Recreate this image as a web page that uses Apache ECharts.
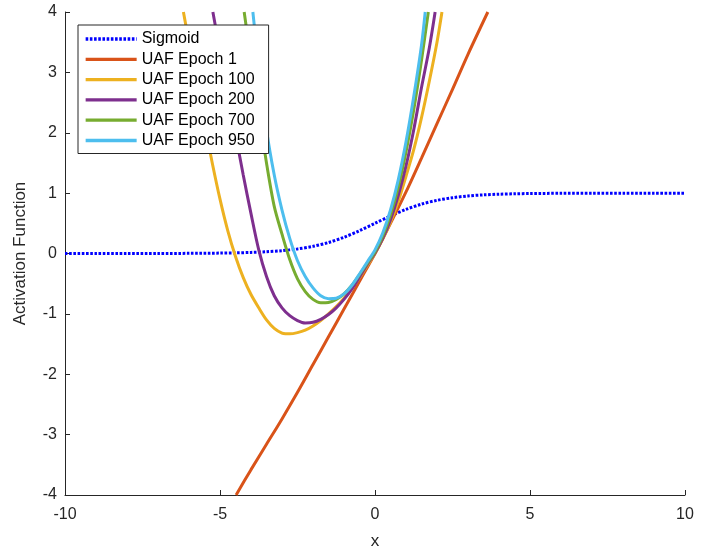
<!DOCTYPE html>
<html><head><meta charset="utf-8">
<script src="https://cdn.jsdelivr.net/npm/echarts@6/dist/echarts.min.js"></script>
<style>html,body{margin:0;padding:0;background:#fff}#c{width:718px;height:548px}</style>
</head><body><div id="c"></div>
<script>
const xTicks = [-10, -5, 0, 5, 10];
const yTicks = [-4, -3, -2, -1, 0, 1, 2, 3, 4];
const seriesNames = ['Sigmoid', 'UAF Epoch 1', 'UAF Epoch 100', 'UAF Epoch 200', 'UAF Epoch 700', 'UAF Epoch 950'];

const sigmoidX = [-10,-9,-8,-7,-6,-5,-4.5,-4,-3.5,-3,-2.5,-2,-1.5,-1,-0.5,0,0.5,1,1.5,2,2.5,3,3.5,4,4.5,5,6,7,8,9,10];
const sigmoidY = [0.0000,0.0001,0.0003,0.0009,0.0025,0.0067,0.011,0.018,0.029,0.047,0.076,0.119,0.182,0.269,0.378,0.500,0.622,0.731,0.818,0.881,0.924,0.953,0.971,0.982,0.989,0.993,0.9975,0.9991,0.9997,0.9999,1.0000];

const epoch1X = [-4.48,-4,-3.5,-3,-2.5,-2,-1.5,-1,-0.5,0,0.5,1,1.5,2,2.5,3,3.64];
const epoch1Y = [-4,-3.58,-3.16,-2.74,-2.3,-1.84,-1.38,-0.92,-0.46,0,0.5,1.02,1.58,2.15,2.72,3.3,4];

const epoch100X = [-6.18,-6.0,-5.75,-5.5,-5.25,-5.0,-4.75,-4.5,-4.25,-4.0,-3.75,-3.5,-3.25,-3.0,-2.89,-2.75,-2.5,-2.25,-2.0,-1.75,-1.5,-1.25,-1.0,-0.75,-0.5,-0.25,0,0.25,0.5,0.75,1.0,1.25,1.5,1.75,2.0,2.16];
const epoch100Y = [4.0,3.5,2.82,2.15,1.5,0.9,0.38,-0.05,-0.4,-0.68,-0.9,-1.1,-1.24,-1.32,-1.33,-1.33,-1.31,-1.27,-1.2,-1.11,-1.0,-0.88,-0.74,-0.58,-0.4,-0.2,0,0.24,0.52,0.86,1.28,1.72,2.25,2.85,3.5,4.0];

const epoch200X = [-5.23,-5.0,-4.75,-4.5,-4.25,-4.0,-3.75,-3.5,-3.25,-3.0,-2.75,-2.5,-2.25,-2.0,-1.75,-1.5,-1.25,-1.0,-0.75,-0.5,-0.25,0,0.25,0.5,0.75,1.0,1.25,1.5,1.75,1.94];
const epoch200Y = [4.0,3.35,2.66,1.98,1.3,0.66,0.06,-0.38,-0.7,-0.9,-1.03,-1.11,-1.15,-1.14,-1.09,-1.01,-0.9,-0.76,-0.59,-0.39,-0.18,0.01,0.25,0.56,0.96,1.45,2.05,2.75,3.4,4.0];

const epoch700X = [-4.22,-4.0,-3.75,-3.5,-3.25,-3.0,-2.75,-2.5,-2.25,-2.0,-1.75,-1.5,-1.25,-1.0,-0.75,-0.5,-0.25,0,0.25,0.5,0.75,1.0,1.25,1.5,1.72];
const epoch700Y = [4.0,3.2,2.35,1.5,0.78,0.32,-0.1,-0.42,-0.63,-0.76,-0.815,-0.81,-0.76,-0.67,-0.53,-0.35,-0.16,0.03,0.29,0.64,1.1,1.68,2.38,3.2,4.0];

const epoch950X = [-3.94,-3.75,-3.5,-3.25,-3.0,-2.75,-2.5,-2.25,-2.0,-1.75,-1.5,-1.25,-1.0,-0.75,-0.5,-0.25,0,0.25,0.5,0.75,1.0,1.25,1.5,1.62];
const epoch950Y = [4.0,3.1,2.05,1.3,0.72,0.25,-0.12,-0.38,-0.57,-0.7,-0.748,-0.74,-0.67,-0.53,-0.34,-0.14,0.06,0.34,0.72,1.22,1.85,2.6,3.45,4.0];

const zip = (xs, ys) => xs.map((x, i) => [x, ys[i]]);
const FONT = '"Liberation Sans", Arial, Helvetica, sans-serif';
const AX = '#262626';

const chart = echarts.init(document.getElementById('c'), null, {renderer: 'canvas'});

function lineSeries(name, xs, ys, color, extra) {
  return Object.assign({
    name: name, type: 'line', data: zip(xs, ys), showSymbol: false, symbol: 'none',
    smooth: 0.3, clip: true,
    lineStyle: {color: color, width: 3},
    itemStyle: {color: color},
    emphasis: {disabled: true}
  }, extra || {});
}

chart.setOption({
  animation: false,
  grid: {left: 65, right: 33, top: 12, bottom: 53, containLabel: false, outerBoundsMode: 'none'},
  xAxis: {
    type: 'value', min: xTicks[0], max: xTicks[xTicks.length - 1], interval: 5,
    name: 'x', nameLocation: 'middle', nameGap: 38,
    nameTextStyle: {fontSize: 17, color: AX, fontFamily: FONT},
    axisLine: {onZero: false, lineStyle: {color: AX, width: 1}},
    axisTick: {inside: true, length: 5, lineStyle: {color: AX}},
    axisLabel: {margin: 12, fontSize: 16, color: AX, fontFamily: FONT},
    splitLine: {show: false}
  },
  yAxis: {
    type: 'value', min: yTicks[0], max: yTicks[yTicks.length - 1], interval: 1,
    name: 'Activation Function', nameLocation: 'middle', nameGap: 36,
    nameTextStyle: {fontSize: 17, color: AX, fontFamily: FONT},
    axisLine: {onZero: false, lineStyle: {color: AX, width: 1}},
    axisTick: {inside: true, length: 5, lineStyle: {color: AX}},
    axisLabel: {margin: 8, fontSize: 16, color: AX, fontFamily: FONT},
    splitLine: {show: false}
  },
  legend: {
    orient: 'vertical', left: 78, top: 25,
    backgroundColor: '#fff', borderColor: AX, borderWidth: 1, borderRadius: 0,
    padding: [6, 14, 5, 6], itemWidth: 51, itemHeight: 14, itemGap: 4.3,
    itemStyle: {opacity: 0},
    lineStyle: {width: 3.3},
    textStyle: {fontSize: 16, color: '#000', fontFamily: FONT},
    data: seriesNames
  },
  series: [
    lineSeries(seriesNames[0], sigmoidX, sigmoidY, '#0000FF', {lineStyle: {color: '#0000FF', width: 3, type: [2.6, 1.6], cap: 'butt'}}),
    lineSeries(seriesNames[1], epoch1X, epoch1Y, '#D95319'),
    lineSeries(seriesNames[2], epoch100X, epoch100Y, '#EDB120'),
    lineSeries(seriesNames[3], epoch200X, epoch200Y, '#7E2F8E'),
    lineSeries(seriesNames[4], epoch700X, epoch700Y, '#77AC30'),
    lineSeries(seriesNames[5], epoch950X, epoch950Y, '#4DBEEE')
  ]
});
</script></body></html>
